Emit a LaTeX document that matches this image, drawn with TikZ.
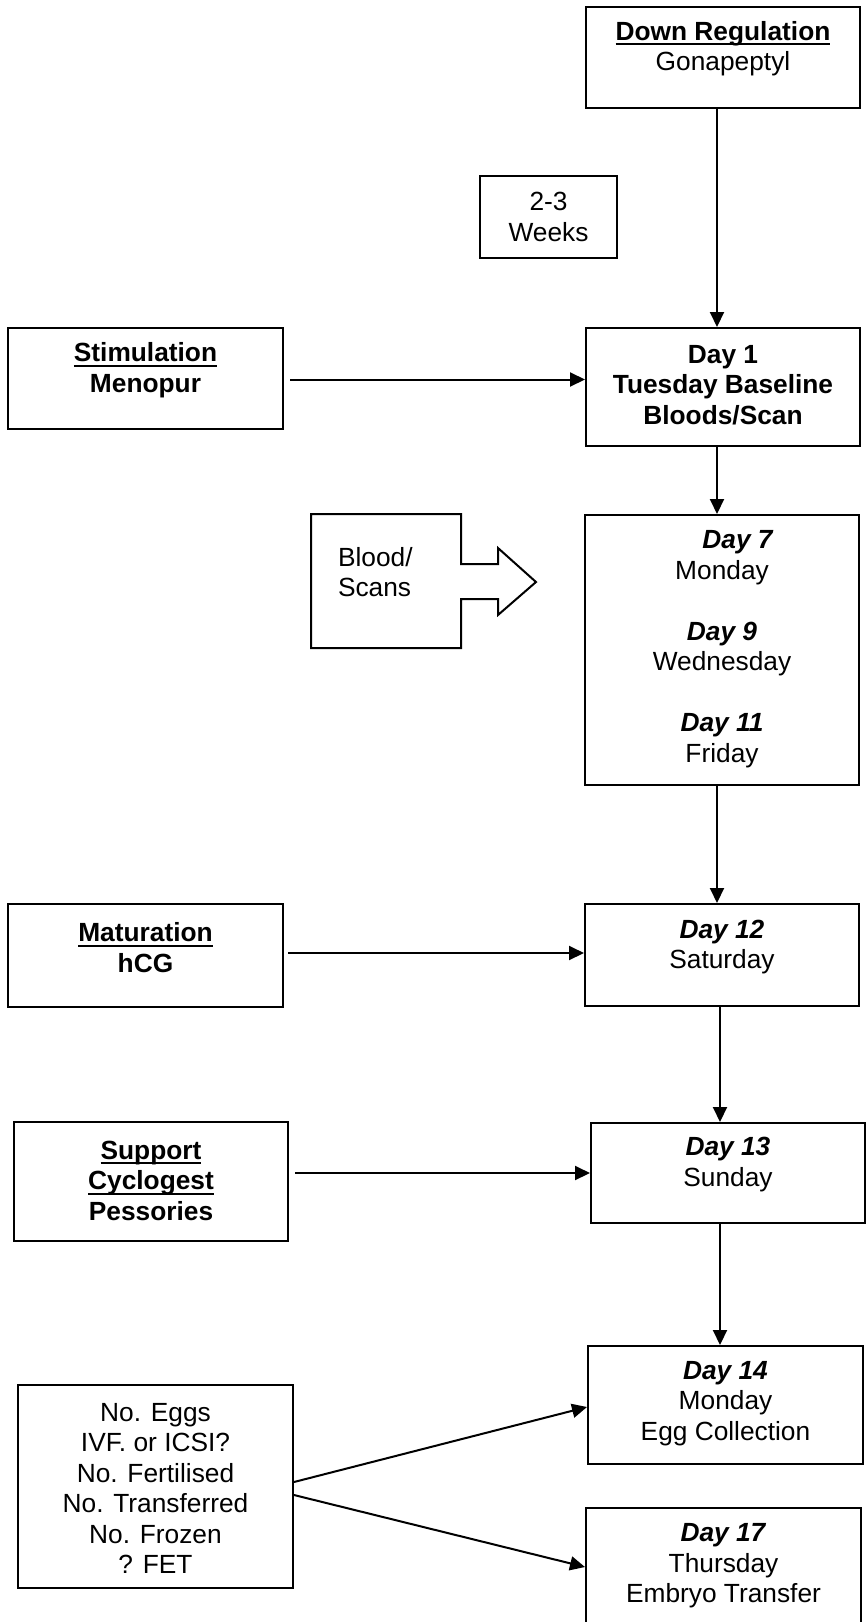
\documentclass[tikz,border=0pt]{standalone}
\usepackage{fontspec}
\setmainfont{Liberation Sans}
\usetikzlibrary{arrows.meta}
\newcommand\ulbox[1]{\setbox0\hbox{#1}\rlap{\rule[-5pt]{\wd0}{2pt}}\box0}
\tikzset{
  every picture/.style={
    line width=2pt,
    >={Triangle[length=15pt, width=14pt]}
  },
  box/.style={
    draw, rectangle, inner sep=0pt,
    minimum width=274pt, minimum height=101pt
  },
  txt/.style={
    align=center, inner sep=0pt,
    font=\fontsize{26.3}{30.5}\selectfont
  }
}
\begin{document}
\begin{tikzpicture}[x=1pt, y=-1pt]
  \useasboundingbox (0,0) rectangle (867,1622);
  % right column
  \node [box, label={[txt,yshift=9pt]center:{\textbf{\ulbox{Down Regulation}}\\Gonapeptyl}}] (downreg) at (723,57.5) {};
  \node [box, minimum width=137pt, minimum height=82pt, label={[txt]center:{2-3\\Weeks}}] (weeks) at (548.5,217) {};
  \node [box, minimum height=118pt, label={[txt,yshift=2pt]center:{\textbf{Day 1}\\\textbf{Tuesday Baseline}\\\textbf{Bloods/Scan}}}] (day1) at (723,387) {};
  \node [box, minimum height=270pt, label={[txt,yshift=1pt]center:{\hspace*{32pt}\textbf{\textit{Day 7}}\\Monday\\[30.5pt]\textbf{\textit{Day 9}}\\Wednesday\\[30.5pt]\textbf{\textit{Day 11}}\\Friday}}] (day7) at (722,650) {};
  \node [box, minimum height=102pt, label={[txt,yshift=8pt]center:{\textbf{\textit{Day 12}}\\Saturday}}] (day12) at (722,955) {};
  \node [box, minimum height=100pt, label={[txt,yshift=8.5pt]center:{\textbf{\textit{Day 13}}\\Sunday}}] (day13) at (728,1173) {};
  \node [box, minimum width=275pt, minimum height=118pt, label={[txt,yshift=1.5pt]center:{\textbf{\textit{Day 14}}\\Monday\\Egg Collection}}] (day14) at (725.5,1405) {};
  \node [box, minimum width=275pt, minimum height=118pt, label={[txt,yshift=1pt]center:{\textbf{\textit{Day 17}}\\Thursday\\Embryo Transfer}}] (day17) at (723.5,1567) {};
  % left column
  \node [box, minimum width=275pt, label={[txt,yshift=8.5pt]center:{\textbf{\ulbox{Stimulation}}\\\textbf{Menopur}}}] (stim) at (145.5,378.5) {};
  \node [box, minimum width=275pt, minimum height=103pt, label={[txt,yshift=8pt]center:{\textbf{\ulbox{Maturation}}\\\textbf{hCG}}}] (mat) at (145.5,955.5) {};
  \node [box, minimum height=119pt, label={[txt,yshift=1pt]center:{\textbf{\ulbox{Support}}\\\textbf{\ulbox{Cyclogest}}\\\textbf{Pessories}}}] (supp) at (151,1181.5) {};
  \node [box, minimum width=275pt, minimum height=203pt, label={[txt,yshift=-2pt]center:{No. Eggs\\IVF. or ICSI?\\No. Fertilised\\No. Transferred\\No. Frozen\\? FET}}] (eggs) at (155.5,1486.5) {};
  % blood/scans callout
  \draw (311,514) -- (461,514) -- (461,564) -- (498,564) -- (498,548) -- (536,582)
    -- (498,615) -- (498,599) -- (461,599) -- (461,648) -- (311,648) -- cycle;
  \node [txt, align=left, anchor=west] (blood) at (337,572) {Blood/\\Scans};
  % connectors
  \draw [->] ([xshift=-6pt]downreg.south) -- ([xshift=-6pt]day1.north);
  \draw [->] ([xshift=6pt,yshift=-1pt]stim.east) -- ([yshift=-1pt]stim.east -| day1.west);
  \draw [->] ([xshift=-6pt]day1.south) -- ([xshift=-6pt]day1.south |- day7.north);
  \draw [->] ([xshift=-5pt]day7.south) -- ([xshift=-5pt]day12.north);
  \draw [->] ([xshift=4pt,yshift=2.5pt]mat.east) -- ([yshift=2.5pt]mat.east -| day12.west);
  \draw [->] ([xshift=-2pt]day12.south) -- ([xshift=-2pt]day12.south |- day13.north);
  \draw [->] ([xshift=6pt,yshift=8.5pt]supp.east) -- ([yshift=8.5pt]supp.east -| day13.west);
  \draw [->] ([xshift=-8pt]day13.south) -- ([xshift=-8pt]day13.south |- day14.north);
  \draw [->] ([yshift=4.5pt]eggs.east) -- ([yshift=-2pt]day14.west);
  \draw [->] ([yshift=-8.5pt]eggs.east) -- (day17.west);
\end{tikzpicture}
\end{document}
